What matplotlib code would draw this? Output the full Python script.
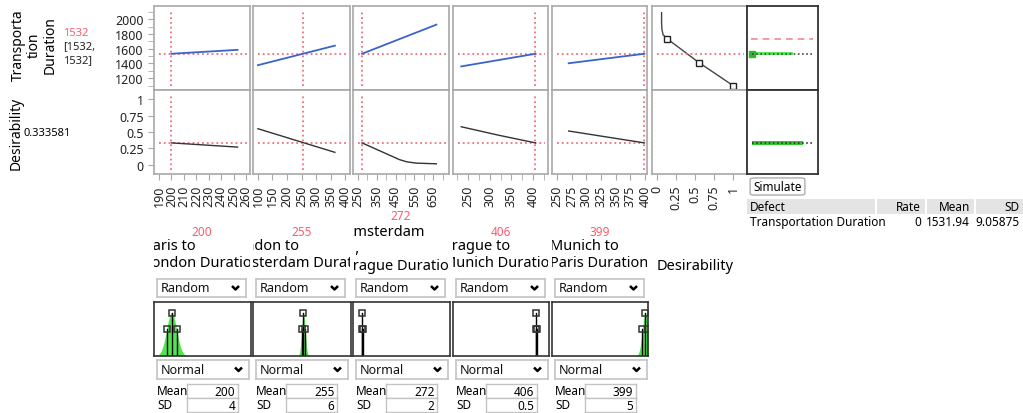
import numpy as np
import matplotlib.pyplot as plt
from matplotlib.patches import FancyBboxPatch, Rectangle
from matplotlib.ticker import FixedLocator

W, H = 1023, 414
plt.rcParams['font.family'] = ['Noto Sans', 'DejaVu Sans']

# factors and their current settings
factor_names = ["Paris to\nLondon Duration", "London to\nAmsterdam Duration",
                "Amsterdam\n   ,\nPrague Duration", "Prague to\nMunich Duration",
                "Munich to\nParis Duration"]
factor_vals = ["200", "255", "272", "406", "399"]
means = [200, 255, 272, 406, 399]
sds = [4, 6, 2, 0.5, 5]
sd_labels = ["4", "6", "2", "0.5", "5"]

# profile traces
td_x = [[200, 253], [100, 365], [272, 667], [234, 406], [270, 399]]
td_y = [[1532, 1585], [1377, 1642], [1532, 1927], [1360, 1532], [1403, 1532]]
des_x = [[200, 253], [100, 365], [272, 400, 470, 510, 560, 667], [234, 320, 406], [270, 399]]
des_y = [[0.334, 0.27], [0.55, 0.19], [0.334, 0.17, 0.08, 0.045, 0.026, 0.015],
         [0.58, 0.452, 0.334], [0.515, 0.334]]
current_td = 1532
current_des = 0.333581

xlims = [(186, 263), (83, 417), (224, 734), (215, 435), (241.5, 403.5)]
major_ticks = [list(range(190, 261, 10)), list(range(100, 401, 50)),
               [250, 350, 450, 550, 650], [250, 300, 350, 400], list(range(250, 401, 25))]
minor_ticks = [[], [], [300, 400, 500, 600, 700], [225, 275, 325, 375, 425], []]

# desirability function (x = desirability, y = transportation duration)
dfun_x = [0.06, 0.06, 0.065, 0.08, 0.13, 0.55, 1.0]
dfun_y = [2090, 1950, 1860, 1790, 1738, 1413, 1100]
dfun_pts_x = [0.13, 0.55, 1.0]
dfun_pts_y = [1738, 1413, 1100]

# simulation results
sim_limit = 1738
sim_td_count = 0.63
sim_des_count = 0.77

# defect table
tbl_header = ["Defect", "Rate", "Mean", "SD"]
tbl_row = ["Transportation Duration", "0", "1531.94", "9.05875"]

BLUE = '#3b63cc'
RED = '#f0707f'
FRAME = '#a8a8a8'
GREEN = '#3fe03f'

fig = plt.figure(figsize=(W / 100, H / 100), dpi=100)


def px_axes(x0, y0, x1, y1, **kw):
    return fig.add_axes([x0 / W, 1 - y1 / H, (x1 - x0) / W, (y1 - y0) / H], **kw)


def frame(ax, color=FRAME, lw=1.2):
    for s in ax.spines.values():
        s.set_color(color)
        s.set_linewidth(lw)


def fig_text(x, y, s, **kw):
    return fig.text(x / W, 1 - y / H, s, **kw)


cols = [(154, 250), (253, 350), (353, 449), (453, 548), (552, 647)]
rows = [(7, 91), (91, 175)]

for i, (cx0, cx1) in enumerate(cols):
    top = px_axes(cx0, rows[0][0], cx1, rows[0][1])
    bot = px_axes(cx0, rows[1][0], cx1, rows[1][1])
    for ax in (top, bot):
        ax.set_xlim(*xlims[i])
        frame(ax)
        ax.tick_params(colors=FRAME, labelcolor='#222222', labelsize=9, length=4)
        ax.axvline(means[i], ymin=0.05, ymax=0.95, color=RED, ls=':', lw=1.3)
    top.set_ylim(1040, 2180)
    bot.set_ylim(-0.14, 1.14)
    top.axhline(current_td, xmin=0.05, xmax=0.97, color=RED, ls=':', lw=1.3)
    bot.axhline(current_des, xmin=0.05, xmax=0.97, color=RED, ls=':', lw=1.3)
    top.plot(td_x[i], td_y[i], color=BLUE, lw=1.3)
    bot.plot(des_x[i], des_y[i], color='#333333', lw=1)
    top.set_xticks([])
    bot.xaxis.set_major_locator(FixedLocator(major_ticks[i]))
    bot.xaxis.set_minor_locator(FixedLocator(minor_ticks[i]))
    bot.tick_params(axis='x', which='both', labelrotation=90, length=4, colors=FRAME)
    bot.tick_params(axis='x', labelcolor='#222222')
    if i == 0:
        top.set_yticks([1200, 1400, 1600, 1800, 2000])
        top.yaxis.set_minor_locator(FixedLocator([1100, 1300, 1500, 1700, 1900, 2100]))
        top.tick_params(axis='y', which='both', length=4, colors=FRAME, labelcolor='#222222')
        bot.set_yticks([0, 0.25, 0.5, 0.75, 1])
        bot.set_yticklabels(["0", "0.25", "0.5", "0.75", "1"])
    else:
        top.set_yticks([])
        bot.set_yticks([])

# desirability function column
dtop = px_axes(652, rows[0][0], 747, rows[0][1])
dbot = px_axes(652, rows[1][0], 747, rows[1][1])
for ax in (dtop, dbot):
    ax.set_xlim(-0.066, 1.184)
    frame(ax)
    ax.set_yticks([])
dtop.set_ylim(1040, 2180)
dbot.set_ylim(-0.14, 1.14)
dtop.set_xticks([])
dtop.plot(dfun_x, dfun_y, color='#444444', lw=1)
dtop.plot(dfun_pts_x, dfun_pts_y, 's', ms=4.5, mfc='white', mec='#222222', mew=1)
dtop.axhline(current_td, xmin=0.05, xmax=0.97, color=RED, ls=':', lw=1.3)
dbot.set_xticks([0, 0.25, 0.5, 0.75, 1])
dbot.set_xticklabels(["0", "0.25", "0.5", "0.75", "1"])
dbot.tick_params(axis='x', labelrotation=90, length=4, colors=FRAME, labelcolor='#222222', labelsize=9)

# simulation column
stop = px_axes(747, rows[0][0], 818, rows[0][1])
sbot = px_axes(747, rows[1][0], 818, rows[1][1])
for ax in (stop, sbot):
    ax.set_xlim(-0.07, 1)
    frame(ax, '#333333', 1.3)
    ax.set_xticks([])
    ax.set_yticks([])
stop.set_ylim(1040, 2180)
sbot.set_ylim(-0.14, 1.14)
stop.axhline(sim_limit, xmin=0.06, xmax=0.93, color='#f08a96', lw=1.2, dashes=(4, 3))
stop.barh(current_td, sim_td_count, height=45, color=GREEN, alpha=0.85)
stop.plot([0], [current_td], 's', ms=4, color='#2fb82f')
stop.plot([0, 0.93], [current_td, current_td], color='#444444', lw=1.2, ls=(0, (1, 1.5)))
sbot.barh(current_des, sim_des_count, height=0.07, color='#2fc82f')
sbot.plot([0, 0.93], [current_des, current_des], color='#333333', lw=1.2, ls=(0, (1, 1.5)))

# left labels
fig_text(34, 45, "Transporta\ntion\nDuration", rotation=90, ha='center', va='center',
         multialignment='center', fontsize=10, linespacing=1.1)
fig_text(63, 33, str(current_td), color='#ff5a6e', fontsize=8, va='center')
fig_text(63, 54, "[1532,\n1532]", color='#222222', fontsize=8, va='center', linespacing=1.35)
fig_text(16, 133, "Desirability", rotation=90, ha='center', va='center', fontsize=10)
fig_text(23, 133, "0.333581", fontsize=8, va='center')

# factor widgets under each column
for i, (cx0, cx1) in enumerate(cols):
    cc = (cx0 + cx1) / 2
    nlines = factor_names[i].count("\n") + 1
    name_top = 239 if nlines == 2 else 225
    val_y = 232 if nlines == 2 else 217
    fig_text(cc, val_y, factor_vals[i], color='#ff5a6e', fontsize=8.5, ha='center', va='center')
    nax = px_axes(cx0, name_top - 2, cx1, 280)
    nax.axis('off')
    nax.text(0.5, 1 - 2 / (282 - name_top), factor_names[i], transform=nax.transAxes,
             ha='center', va='top', multialignment='left', fontsize=10.5, clip_on=True,
             linespacing=1.2)

    for (y0, y1, label, xr) in [(280, 298, "Random", cx0 + 92), (361, 380, "Normal", cx0 + 95)]:
        dd = px_axes(cx0 + 3, y0, xr, y1)
        dd.set_xlim(0, xr - cx0 - 3)
        dd.set_ylim(0, y1 - y0)
        dd.set_xticks([])
        dd.set_yticks([])
        frame(dd, '#c4c4c4', 1.2)
        dd.text(4, (y1 - y0) / 2, label, fontsize=9, va='center', color='#111111')
        w = xr - cx0 - 3
        dd.plot([w - 14, w - 10.5, w - 7], [(y1 - y0) / 2 + 2, (y1 - y0) / 2 - 1.5, (y1 - y0) / 2 + 2],
                color='black', lw=1.8, solid_capstyle='butt')

    dist = px_axes(cx0, 303, cx1 + 1, 357)
    dist.set_xlim(*xlims[i])
    dist.set_ylim(0, 1)
    dist.set_xticks([])
    dist.set_yticks([])
    frame(dist, '#333333', 1.2)
    xs = np.linspace(means[i] - 4 * sds[i], means[i] + 4 * sds[i], 300)
    dens = 0.8 * np.exp(-0.5 * ((xs - means[i]) / sds[i]) ** 2)
    dist.fill_between(xs, 0, dens, color=GREEN, alpha=0.9, lw=0)
    dist.plot([means[i], means[i]], [0, 0.8], color='black', lw=1)
    for s in (-1, 1):
        dist.plot([means[i] + s * sds[i]] * 2, [0, 0.5], color='black', lw=1)
    dist.plot([means[i], means[i] - sds[i], means[i] + sds[i]], [0.8, 0.5, 0.5], 's',
              ms=5, mfc='none', mec='#333333', mew=1.1)

    fig_text(cx0 + 3, 392, "Mean", fontsize=8.5, va='center')
    fig_text(cx0 + 3, 406, "SD", fontsize=8.5, va='center')
    for (y0, y1, val) in [(385, 399, str(means[i])), (399, 413, sd_labels[i])]:
        box = px_axes(cx0 + 33, y0, cx0 + 84, y1)
        box.set_xticks([])
        box.set_yticks([])
        frame(box, '#c4c4c4', 1)
        box.text(0.95, 0.45, val, transform=box.transAxes, ha='right', va='center', fontsize=8.5)

fig_text(657, 267, "Desirability", fontsize=10.5, va='center')

# simulate button
bax = px_axes(749, 178, 806, 197)
bax.axis('off')
bax.add_patch(FancyBboxPatch((0.02, 0.05), 0.96, 0.9, boxstyle="round,pad=0,rounding_size=0.08",
                             transform=bax.transAxes, fc='#fdfdfd', ec='#adadad', lw=1))
bax.text(0.5, 0.5, "Simulate", transform=bax.transAxes, ha='center', va='center', fontsize=8.5)

# defect table
tax = px_axes(747, 199, 1023, 231)
tax.axis('off')
tax.set_xlim(747, 1023)
tax.set_ylim(231, 199)
tax.add_patch(Rectangle((747, 200), 276, 15, fc='#e4e4e4', ec='none'))
for sx in (875, 925, 974):
    tax.add_patch(Rectangle((sx, 200), 2, 15, fc='white', ec='none'))
col_right = [None, 921, 970, 1020]
for j in range(4):
    if j == 0:
        tax.text(750, 207.5, tbl_header[j], fontsize=8.5, weight='bold', va='center')
        tax.text(750, 223, tbl_row[j], fontsize=8.5, va='center')
    else:
        tax.text(col_right[j], 207.5, tbl_header[j], fontsize=8.5, weight='bold', va='center', ha='right')
        tax.text(col_right[j], 223, tbl_row[j], fontsize=8.5, va='center', ha='right')

fig.savefig("out.png", dpi=100)
